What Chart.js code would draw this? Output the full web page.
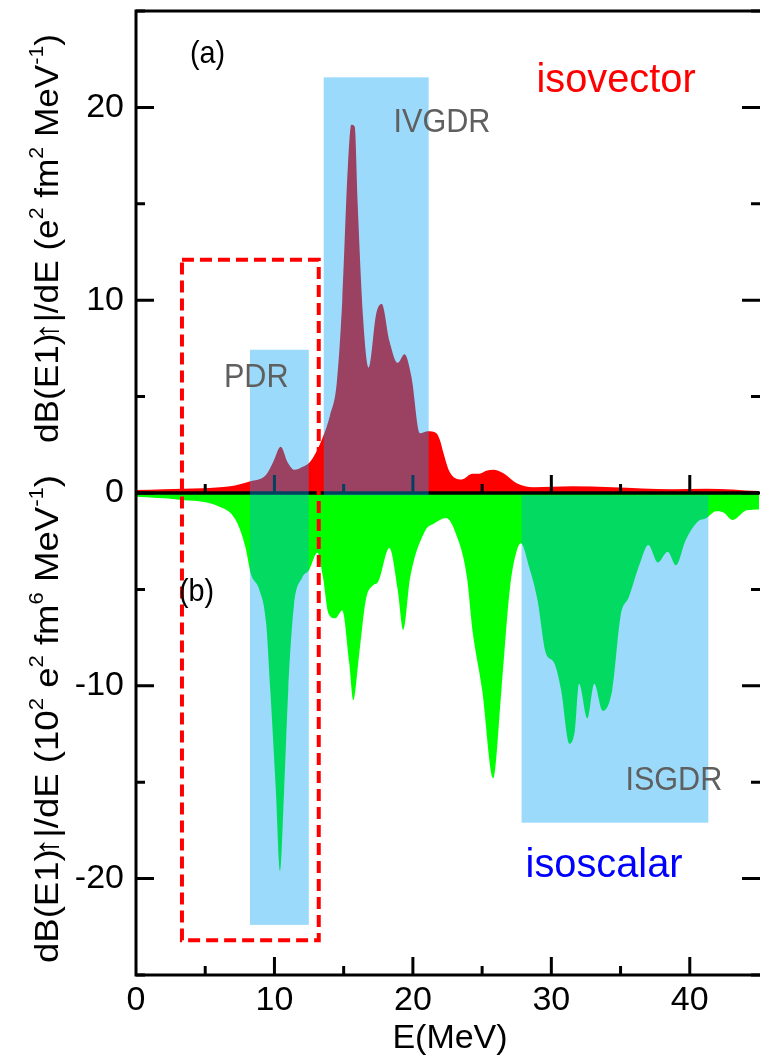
<!DOCTYPE html>
<html>
<head>
<meta charset="UTF-8">
<title>E1 strength</title>
<script src="https://cdn.jsdelivr.net/npm/chart.js@4"></script>
<style>
  html, body { margin: 0; padding: 0; background: #fff; overflow: hidden; }
  #wrap { width: 760px; height: 1057px; }
</style>
</head>
<body>
<div id="wrap"><canvas id="grafica" width="760" height="1057"></canvas></div>
<script>
// (a) isovector strength, e^2 fm^2 / MeV
const ivEnergy = [0, 2, 4.8, 6.8, 8.2, 9.4, 9.9, 10.45, 10.95, 11.45, 12.0, 12.55, 13.0, 13.5, 14.0, 14.5, 14.9, 15.3, 15.55, 15.8, 16.0, 16.4, 16.8, 17.35, 17.75, 18.3, 18.9, 19.4, 19.9, 20.5, 21.1, 21.7, 21.95, 22.2, 22.65, 23.5, 24.3, 24.8, 25.3, 25.8, 26.6, 27.5, 28.7, 31.5, 34.4, 38.7, 41.2, 45];
const ivStrength = [0.15, 0.2, 0.25, 0.35, 0.6, 0.95, 1.6, 2.4, 1.6, 1.2, 1.35, 1.6, 2.1, 2.9, 4.0, 5.7, 10.0, 16.9, 19.1, 19.0, 15.2, 9.1, 6.5, 9.3, 9.8, 7.9, 6.75, 7.2, 6.0, 3.1, 3.2, 3.1, 2.75, 2.1, 1.1, 0.7, 1.0, 1.0, 1.15, 1.2, 1.0, 0.5, 0.3, 0.35, 0.3, 0.2, 0.22, 0.1];

// (b) isoscalar strength, 10^2 e^2 fm^6 / MeV (drawn negative)
const isEnergy = [0, 3.1, 6.0, 7.2, 7.9, 8.3, 8.9, 9.4, 9.7, 10.1, 10.4, 10.7, 11.0, 11.4, 12.0, 12.5, 13.1, 13.5, 13.9, 14.4, 14.9, 15.4, 15.7, 16.1, 16.6, 17.1, 17.5, 18.3, 18.9, 19.3, 19.8, 20.9, 21.5, 22.4, 23.1, 23.9, 24.3, 25.0, 25.8, 26.4, 27.0, 27.5, 27.8, 28.4, 29.0, 29.6, 30.2, 30.7, 31.3, 31.7, 32.0, 32.6, 33.1, 33.7, 34.4, 35.0, 35.6, 36.4, 37.0, 37.7, 38.4, 39.0, 39.7, 40.55, 41.2, 41.9, 42.4, 43.1, 44.1, 45];
const isStrength = [-0.2, -0.35, -0.7, -1.4, -2.8, -4.2, -5.0, -6.75, -10.2, -15.4, -19.6, -15.4, -10.2, -5.9, -4.4, -4.0, -3.1, -4.35, -6.25, -6.5, -6.1, -8.8, -10.75, -8.5, -5.55, -4.8, -4.6, -2.85, -5.0, -7.1, -4.4, -1.95, -1.6, -1.3, -2.1, -4.35, -7.1, -10.2, -14.8, -10.2, -5.0, -3.0, -2.6, -3.85, -5.55, -8.3, -8.8, -10.2, -13.0, -12.3, -9.9, -11.7, -9.9, -11.3, -10.2, -6.4, -5.4, -3.65, -2.7, -3.6, -3.05, -3.75, -2.45, -1.5, -1.3, -0.95, -1.0, -1.4, -0.9, -0.85];

const xTicks = [0, 10, 20, 30, 40];
const yTicks = [-20, -10, 0, 10, 20];

// resonance windows [E from, E to, y from, y to]
const pdrBox = [8.23, 12.48, -22.4, 7.43];
const ivgdrBox = [13.56, 21.14, -0.12, 21.56];
const isgdrBox = [27.85, 41.34, -17.1, -0.12];
const zoomBox = [3.32, 13.2, -23.2, 12.1];

const FAM = '"Liberation Sans", Arial, Helvetica, sans-serif';
const font = s => s + 'px ' + FAM;

const etiquetas = [
  { t: '(a)', x: 3.9, y: 22.3, size: 32, sx: 0.9, color: '#000' },
  { t: 'isovector', x: 28.93, y: 20.78, size: 41, sx: 0.97, color: '#ff0000' },
  { t: 'IVGDR', x: 18.6, y: 18.7, size: 34, sx: 0.9, color: '#5f5f5f' },
  { t: 'PDR', x: 6.35, y: 5.5, size: 34, sx: 0.9, color: '#5f5f5f' },
  { t: '(b)', x: 3.1, y: -5.6, size: 32, sx: 0.9, color: '#000' },
  { t: 'ISGDR', x: 35.35, y: -15.4, size: 34, sx: 0.9, color: '#5f5f5f' },
  { t: 'isoscalar', x: 28.14, y: -19.9, size: 41, sx: 0.97, color: '#0000ff' }
];

const tituloArriba = [
  { t: 'dB(E1)' }, { t: '\u2191', dx: -6 }, { t: '|/dE (e' }, { t: '2', sup: true },
  { t: ' fm' }, { t: '2', sup: true }, { t: ' MeV' }, { t: '-1', sup: true }, { t: ')' }
];
const tituloAbajo = [
  { t: 'dB(E1)' }, { t: '\u2191', dx: -6 }, { t: '|/dE (10' }, { t: '2', sup: true },
  { t: ' e' }, { t: '2', sup: true }, { t: ' fm' }, { t: '6', sup: true },
  { t: ' MeV' }, { t: '-1', sup: true }, { t: ')' }
];

function drawVertical(ctx, parts, bx, yStart, yEnd, size) {
  const supSize = Math.round(size * 0.62);
  ctx.save();
  ctx.translate(bx, yStart);
  ctx.rotate(-Math.PI / 2);
  let total = 0;
  const w = parts.map(p => {
    ctx.font = font(p.sup ? supSize : size);
    const m = ctx.measureText(p.t).width;
    total += m + (p.dx || 0);
    return m;
  });
  ctx.scale((yStart - yEnd) / total, 1);
  ctx.fillStyle = '#000';
  ctx.textBaseline = 'alphabetic';
  ctx.textAlign = 'left';
  let cx = 0;
  parts.forEach((p, i) => {
    ctx.font = font(p.sup ? supSize : size);
    cx += p.dx || 0;
    ctx.fillText(p.t, cx, p.sup ? -size * 0.45 : 0);
    cx += w[i];
  });
  ctx.restore();
}

const overlay = {
  id: 'overlay',
  afterDatasetsDraw(chart) {
    const { ctx, chartArea: a, scales: { x, y } } = chart;
    const y0 = y.getPixelForValue(0);
    ctx.save();
    ctx.lineCap = 'butt';

    // zero line with ticks
    ctx.strokeStyle = '#000';
    ctx.lineWidth = 3.5;
    ctx.beginPath(); ctx.moveTo(a.left, y0); ctx.lineTo(a.right, y0); ctx.stroke();
    ctx.lineWidth = 3;
    for (let v = 5; v < 45; v += 5) {
      const px = x.getPixelForValue(v);
      const len = v % 10 ? 9 : 18;
      ctx.beginPath(); ctx.moveTo(px, y0); ctx.lineTo(px, y0 - len); ctx.stroke();
    }

    // shaded windows
    ctx.fillStyle = 'rgba(5,162,242,0.4)';
    [pdrBox, ivgdrBox, isgdrBox].forEach(b => {
      const x1 = x.getPixelForValue(b[0]), x2 = x.getPixelForValue(b[1]);
      const y1 = y.getPixelForValue(b[3]), y2 = y.getPixelForValue(b[2]);
      ctx.fillRect(x1, y1, x2 - x1, y2 - y1);
    });

    // dashed box
    ctx.strokeStyle = '#ff0000';
    ctx.lineWidth = 4;
    ctx.setLineDash([12, 6]);
    const zx1 = x.getPixelForValue(zoomBox[0]), zx2 = x.getPixelForValue(zoomBox[1]);
    const zy1 = y.getPixelForValue(zoomBox[3]), zy2 = y.getPixelForValue(zoomBox[2]);
    ctx.strokeRect(zx1, zy1, zx2 - zx1, zy2 - zy1);
    ctx.setLineDash([]);

    // frame (right side falls just off the page)
    ctx.strokeStyle = '#000';
    ctx.lineWidth = 3;
    ctx.beginPath();
    ctx.moveTo(a.right + 2, a.top); ctx.lineTo(a.left, a.top);
    ctx.lineTo(a.left, a.bottom); ctx.lineTo(a.right + 2, a.bottom);
    ctx.stroke();
    for (let v = -25; v <= 25; v += 5) {
      const py = y.getPixelForValue(v);
      const len = v % 10 ? 9 : 18;
      ctx.beginPath();
      ctx.moveTo(a.left, py); ctx.lineTo(a.left + len, py);
      ctx.moveTo(a.right + 1, py); ctx.lineTo(a.right + 1 - len, py);
      ctx.stroke();
    }
    for (let v = 5; v < 45; v += 5) {
      const px = x.getPixelForValue(v);
      const len = v % 10 ? 9 : 18;
      ctx.beginPath(); ctx.moveTo(px, a.bottom); ctx.lineTo(px, a.bottom - len); ctx.stroke();
    }

    // labels
    ctx.textAlign = 'left';
    ctx.textBaseline = 'alphabetic';
    etiquetas.forEach(e => {
      ctx.save();
      ctx.translate(x.getPixelForValue(e.x), y.getPixelForValue(e.y));
      ctx.scale(e.sx, 1);
      ctx.font = font(e.size);
      ctx.fillStyle = e.color;
      ctx.fillText(e.t, 0, 0);
      ctx.restore();
    });

    // axis titles
    ctx.fillStyle = '#000';
    ctx.font = font(34);
    ctx.textAlign = 'center';
    ctx.fillText('E(MeV)', 450, 1048);
    drawVertical(ctx, tituloArriba, 58, 443, 34, 33);
    drawVertical(ctx, tituloAbajo, 58, 963, 475, 33);
    ctx.restore();
  }
};

const ctx = document.getElementById('grafica').getContext('2d');
new Chart(ctx, {
  type: 'line',
  data: {
    datasets: [
      {
        label: 'isovector',
        data: ivEnergy.map((e, i) => ({ x: e, y: ivStrength[i] })),
        backgroundColor: '#ff0000',
        borderWidth: 0,
        pointRadius: 0,
        fill: 'origin',
        cubicInterpolationMode: 'monotone'
      },
      {
        label: 'isoscalar',
        data: isEnergy.map((e, i) => ({ x: e, y: isStrength[i] })),
        backgroundColor: '#00ff00',
        borderWidth: 0,
        pointRadius: 0,
        fill: 'origin',
        cubicInterpolationMode: 'monotone'
      }
    ]
  },
  options: {
    responsive: false,
    animation: false,
    devicePixelRatio: 1,
    layout: { padding: { top: 11, right: 1, left: 0, bottom: 0 } },
    plugins: { legend: { display: false }, tooltip: { enabled: false } },
    scales: {
      x: {
        type: 'linear', min: 0, max: 45,
        afterFit: s => { s.height = 82; s.paddingLeft = 0; s.paddingRight = 0; },
        afterBuildTicks: s => { s.ticks = xTicks.map(v => ({ value: v })); },
        grid: { display: false, drawTicks: false },
        border: { display: false },
        ticks: { font: { family: FAM, size: 34 }, color: '#000', padding: 5, maxRotation: 0, autoSkip: false, callback: v => String(v) }
      },
      y: {
        type: 'linear', min: -25, max: 25,
        afterFit: s => { s.width = 136; s.paddingTop = 0; s.paddingBottom = 0; },
        afterBuildTicks: s => { s.ticks = yTicks.map(v => ({ value: v })); },
        grid: { display: false, drawTicks: false },
        border: { display: false },
        ticks: { font: { family: FAM, size: 34 }, color: '#000', padding: 12, autoSkip: false, callback: v => String(v) }
      }
    }
  },
  plugins: [overlay]
});
</script>
</body>
</html>
